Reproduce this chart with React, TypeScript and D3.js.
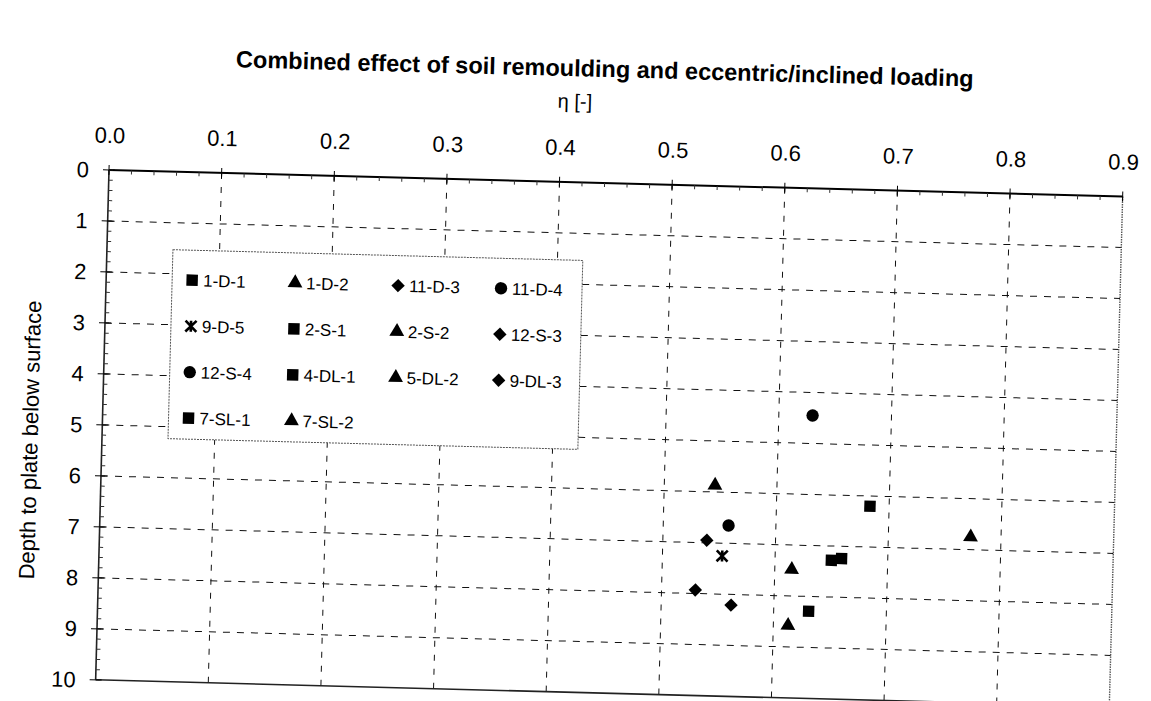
import React from 'react';
import * as d3 from 'd3';

// values
const etaTicks = [0, 0.1, 0.2, 0.3, 0.4, 0.5, 0.6, 0.7, 0.8, 0.9];
const etaTickLabels = ['0.0', '0.1', '0.2', '0.3', '0.4', '0.5', '0.6', '0.7', '0.8', '0.9'];
const depthTicks = [0, 1, 2, 3, 4, 5, 6, 7, 8, 9, 10];

const seriesNames = ['1-D-1', '1-D-2', '11-D-3', '11-D-4', '9-D-5', '2-S-1', '2-S-2', '12-S-3', '12-S-4', '4-DL-1', '5-DL-2', '9-DL-3', '7-SL-1', '7-SL-2'];
const seriesShapes = ['square', 'triangle', 'diamond', 'circle', 'star', 'square', 'triangle', 'diamond', 'circle', 'square', 'triangle', 'diamond', 'square', 'triangle'];
const etaValues = [0.683, 0.545, 0.539, 0.630, 0.553, 0.650, 0.773, 0.530, 0.558, 0.659, 0.615, 0.562, 0.631, 0.613];
const depthValues = [6.2, 5.87, 6.95, 4.45, 7.25, 7.28, 6.75, 7.93, 6.65, 7.24, 7.48, 8.21, 8.29, 8.58];

const FONT = '"Liberation Sans", Arial, Helvetica, sans-serif';

function Marker({ shape, x, y }: { shape: string; x: number; y: number }) {
    if (shape === 'star') {
        const r = 5.5;
        const p = `M${-r},${-r}L${r},${r}M${r},${-r}L${-r},${r}M0,${-r}L0,${r}`;
        return <path d={p} transform={`translate(${x},${y})`} stroke="#000" strokeWidth={2.6} fill="none" />;
    }
    let path: string | null = null;
    let rot = 0;
    if (shape === 'square') path = d3.symbol(d3.symbolSquare, 130)();
    else if (shape === 'circle') path = d3.symbol(d3.symbolCircle, 120)();
    else if (shape === 'triangle') path = d3.symbol(d3.symbolTriangle, 95)();
    else if (shape === 'diamond') { path = d3.symbol(d3.symbolSquare, 90)(); rot = 45; }
    return <path d={path || ''} transform={`translate(${x},${y}) rotate(${rot})`} fill="#000" />;
}

export default function App() {
    const width = 1151;
    const height = 701;
    const origin = { x: 109, y: 170 };
    const plotW = 1014;
    const plotH = 510;
    const tilt = 1.5; // the scan is slightly rotated

    const x = d3.scaleLinear().domain([0, 0.9]).range([0, plotW]);
    const y = d3.scaleLinear().domain([0, 10]).range([0, plotH]);

    const minorEta = d3.range(0, 0.9001, 0.02);
    const minorDepth = d3.range(0, 10.001, 0.2);

    // legend layout
    const legend = { x: 66, y: 78, w: 410, h: 189, colW: 103, rowH: 46 };

    return (
        <svg width={width} height={height} style={{ position: 'absolute', left: 0, top: 0, background: '#fff' }} fontFamily={FONT}>
            <rect width={width} height={height} fill="#fff" />
            <g transform={`translate(${origin.x},${origin.y}) rotate(${tilt})`}>
                {/* title */}
                <text x={493} y={-106} textAnchor="middle" fontSize={23.5} fontWeight="bold" fill="#000">
                    Combined effect of soil remoulding and eccentric/inclined loading
                </text>
                <text x={464} y={-74} textAnchor="middle" fontSize={20} fill="#000">η [-]</text>

                {/* grid */}
                {depthTicks.slice(1, -1).map(t => (
                    <line key={'h' + t} x1={0} x2={plotW} y1={y(t)} y2={y(t)} stroke="#111" strokeWidth={1} strokeDasharray="7 7" />
                ))}
                {etaTicks.slice(1, -1).map(t => (
                    <line key={'v' + t} x1={x(t)} x2={x(t)} y1={0} y2={plotH} stroke="#111" strokeWidth={1} strokeDasharray="6 8" />
                ))}

                {/* plot borders */}
                <line x1={plotW} x2={plotW} y1={0} y2={plotH} stroke="#555" strokeWidth={1.4} strokeDasharray="1.5 1" />
                <line x1={0} x2={plotW} y1={plotH} y2={plotH} stroke="#222" strokeWidth={1.6} />
                <line x1={0} x2={plotW} y1={0} y2={0} stroke="#000" strokeWidth={2} />
                <line x1={0} x2={0} y1={0} y2={plotH} stroke="#222" strokeWidth={1.6} />

                {/* ticks */}
                {minorEta.map((t, i) => (
                    <line key={'me' + i} x1={x(t)} x2={x(t)} y1={0} y2={4} stroke="#333" strokeWidth={1} />
                ))}
                {etaTicks.map(t => (
                    <line key={'Me' + t} x1={x(t)} x2={x(t)} y1={-5} y2={5} stroke="#000" strokeWidth={1} />
                ))}
                {minorDepth.map((t, i) => (
                    <line key={'md' + i} x1={0} x2={4} y1={y(t)} y2={y(t)} stroke="#333" strokeWidth={1} />
                ))}
                {depthTicks.map(t => (
                    <line key={'Md' + t} x1={-6} x2={6} y1={y(t)} y2={y(t)} stroke="#000" strokeWidth={1} />
                ))}

                {/* tick labels */}
                {etaTicks.map((t, i) => (
                    <text key={'le' + t} x={x(t)} y={-27} textAnchor="middle" fontSize={22} fill="#000">{etaTickLabels[i]}</text>
                ))}
                {depthTicks.map(t => (
                    <text key={'ld' + t} x={-20} y={y(t)} dy="0.36em" textAnchor="end" fontSize={22} fill="#000">{t}</text>
                ))}

                {/* axis title */}
                <text x={-72} y={272} textAnchor="middle" fontSize={22} fill="#000" transform={`rotate(-90, -72, 272)`} dy="0.35em">
                    Depth to plate below surface
                </text>

                {/* legend */}
                <rect x={legend.x} y={legend.y} width={legend.w} height={legend.h} fill="#fff" stroke="#555" strokeWidth={1} strokeDasharray="2 1" />
                {seriesNames.map((name, i) => {
                    const col = i % 4;
                    const row = Math.floor(i / 4);
                    const mx = legend.x + 20 + col * legend.colW;
                    const my = legend.y + 30 + row * legend.rowH;
                    return (
                        <g key={'lg' + name}>
                            <Marker shape={seriesShapes[i]} x={mx} y={my} />
                            <text x={mx + 11} y={my} dy="0.36em" fontSize={17} fill="#000">{name}</text>
                        </g>
                    );
                })}

                {/* data */}
                {seriesNames.map((name, i) => (
                    <Marker key={'pt' + name} shape={seriesShapes[i]} x={x(etaValues[i])} y={y(depthValues[i])} />
                ))}
            </g>
        </svg>
    );
}
